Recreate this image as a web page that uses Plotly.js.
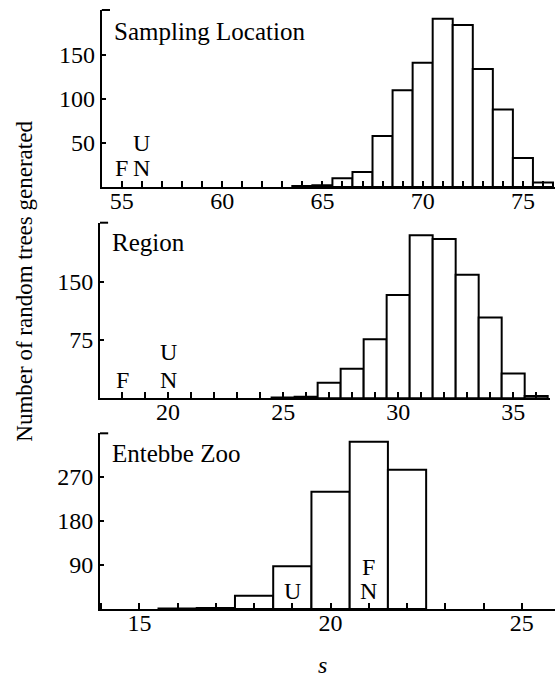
<!DOCTYPE html>
<html>
<head>
<meta charset="utf-8">
<script src="https://cdn.plot.ly/plotly-3.0.1.min.js"></script>
<style>html,body{margin:0;padding:0;background:#fff;}#chart{width:557px;height:679px;}</style>
</head>
<body>
<div id="chart"></div>
<script>
// Panel 1: Sampling Location
const locS = [64, 65, 66, 67, 68, 69, 70, 71, 72, 73, 74, 75, 76];
const locCount = [1, 2, 10, 17, 58, 110, 141, 191, 184, 134, 88, 33, 5];
// Panel 2: Region
const regS = [25, 26, 27, 28, 29, 30, 31, 32, 33, 34, 35, 36];
const regCount = [1, 2, 20, 38, 76, 133, 210, 205, 159, 104, 32, 3];
// Panel 3: Entebbe Zoo
const zooS = [16, 17, 18, 19, 20, 21, 22];
const zooCount = [1, 2, 27, 87, 239, 341, 284];

const panelTitles = ["Sampling Location", "Region", "Entebbe Zoo"];
const locTicks = [55, 60, 65, 70, 75];
const regTicks = [20, 25, 30, 35];
const zooTicks = [15, 20, 25];
const locYTicks = [50, 100, 150];
const regYTicks = [75, 150];
const zooYTicks = [90, 180, 270];

// Letter markers (F, N, U) per panel: [s, count, label]
const locLetters = [[55, 22, "F"], [56, 22, "N"], [56, 50, "U"]];
const regLetters = [[18, 23, "F"], [20, 23, "N"], [20, 59, "U"]];
const zooLetters = [[19, 36, "U"], [21, 36, "N"], [21, 86, "F"]];

const FONT = "'Liberation Serif', 'Times New Roman', 'DejaVu Serif', serif";

function barTrace(x, y, xa, ya) {
  return {
    type: "bar", x: x, y: y, xaxis: xa, yaxis: ya, width: 1,
    marker: {color: "white", line: {color: "black", width: 2}},
    hoverinfo: "x+y"
  };
}

const data = [
  barTrace(locS, locCount, "x", "y"),
  barTrace(regS, regCount, "x2", "y2"),
  barTrace(zooS, zooCount, "x3", "y3")
];

function xAxis(range, ticks, anchor, domain) {
  return {
    domain: domain, anchor: anchor, range: range,
    tickmode: "array", tickvals: ticks,
    ticks: "inside", ticklen: 6, tickwidth: 2, tickcolor: "black",
    minor: {dtick: 1, tick0: 0, ticks: "inside", ticklen: 6, tickwidth: 2, tickcolor: "black"},
    showline: true, linewidth: 2, linecolor: "black",
    showgrid: false, zeroline: false,
    ticklabelstandoff: -9,
    tickfont: {family: FONT, size: 24, color: "black"}
  };
}
function yAxis(range, ticks, anchor, domain) {
  return {
    domain: domain, anchor: anchor, range: range,
    tickmode: "array", tickvals: ticks,
    ticks: "inside", ticklen: 4, tickwidth: 2, tickcolor: "black",
    showline: true, linewidth: 2, linecolor: "black",
    showgrid: false, zeroline: false,
    tickfont: {family: FONT, size: 24, color: "black"}
  };
}

const annotations = [];
function addLetters(list, xr, yr) {
  list.forEach(function (l) {
    annotations.push({x: l[0], y: l[1], text: l[2], xref: xr, yref: yr, showarrow: false,
      font: {family: FONT, size: 24, color: "black"}});
  });
}
addLetters(locLetters, "x", "y");
addLetters(regLetters, "x2", "y2");
addLetters(zooLetters, "x3", "y3");

const titleAxes = [["x", "y", 0.88], ["x2", "y2", 0.89], ["x3", "y3", 0.885]];
panelTitles.forEach(function (t, i) {
  annotations.push({text: t, xref: titleAxes[i][0] + " domain", yref: titleAxes[i][1] + " domain",
    x: 0.022, y: titleAxes[i][2], xanchor: "left", yanchor: "middle", showarrow: false,
    font: {family: FONT, size: 25, color: "black"}});
});

annotations.push({text: "Number of random trees generated", xref: "paper", yref: "paper",
  x: -0.165, y: 0.548, textangle: -90, showarrow: false, xanchor: "center", yanchor: "middle",
  font: {family: FONT, size: 23, color: "black"}});
annotations.push({text: "<i>s</i>", xref: "paper", yref: "paper",
  x: 0.488, y: -0.093, showarrow: false, xanchor: "center", yanchor: "middle",
  font: {family: FONT, size: 24, color: "black"}});

const shapes = [["x", "y"], ["x2", "y2"], ["x3", "y3"]].map(function (a) {
  return {type: "line", xref: a[0] + " domain", yref: a[1] + " domain",
    x0: 0, x1: 0.018, y0: 1, y1: 1, line: {color: "black", width: 2}};
});

const layout = {
  width: 557, height: 679,
  margin: {l: 100, r: 2, t: 10, b: 70},
  paper_bgcolor: "white", plot_bgcolor: "white",
  showlegend: false, bargap: 0,
  font: {family: FONT, color: "black"},
  xaxis: xAxis([54.0, 76.6], locTicks, "y", [0.004, 1]),
  yaxis: yAxis([0, 201], locYTicks, "x", [0.7045, 1]),
  xaxis2: xAxis([17.04, 36.6], regTicks, "y2", [0, 0.989]),
  yaxis2: yAxis([0, 226], regYTicks, "x2", [0.3518, 0.6449]),
  xaxis3: xAxis([13.97, 25.87], zooTicks, "y3", [0, 1]),
  yaxis3: yAxis([0, 358], zooYTicks, "x3", [0, 0.2933]),
  annotations: annotations,
  shapes: shapes
};

Plotly.newPlot("chart", data, layout, {displayModeBar: false, staticPlot: true});
</script>
</body>
</html>
